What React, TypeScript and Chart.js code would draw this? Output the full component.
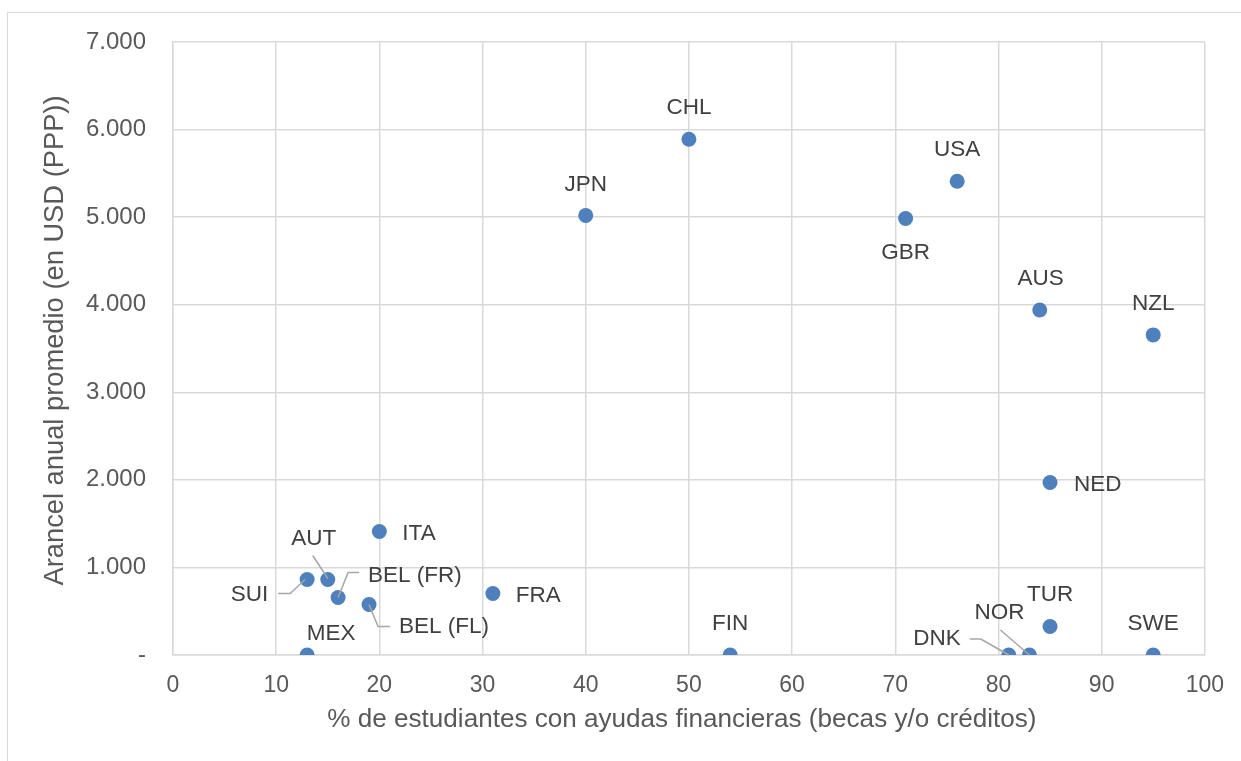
import React, { useEffect, useRef } from "react";
import { Chart, registerables } from "chart.js";

Chart.register(...registerables);

const countries = ["CHL", "JPN", "USA", "GBR", "AUS", "NZL", "NED", "ITA", "AUT", "SUI", "BEL (FR)", "BEL (FL)", "FRA", "MEX", "FIN", "DNK", "NOR", "TUR", "SWE"];
const aidShare = [50, 40, 76, 71, 84, 95, 85, 20, 15, 13, 16, 19, 31, 13, 54, 81, 83, 85, 95];
const tuition = [5890, 5020, 5410, 4985, 3940, 3655, 1970, 1410, 862, 862, 657, 577, 702, 0, 0, 0, 0, 326, 0];
const xTicks = [0, 10, 20, 30, 40, 50, 60, 70, 80, 90, 100];
const yTickLabels = ["-", "1.000", "2.000", "3.000", "4.000", "5.000", "6.000", "7.000"];

const xTitle = "% de estudiantes con ayudas financieras (becas y/o créditos)";
const yTitle = "Arancel anual promedio (en USD (PPP))";

type LabelStyle = { dx: number; dy: number; align: CanvasTextAlign; leader?: number[][] };
const labelStyles: Record<string, LabelStyle> = {
  CHL: { dx: 0, dy: -31, align: "center" },
  JPN: { dx: 0, dy: -31, align: "center" },
  USA: { dx: 0, dy: -31, align: "center" },
  GBR: { dx: 0, dy: 34, align: "center" },
  AUS: { dx: 1, dy: -31, align: "center" },
  NZL: { dx: 0, dy: -31, align: "center" },
  NED: { dx: 24, dy: 2, align: "left" },
  ITA: { dx: 23, dy: 2, align: "left" },
  FRA: { dx: 23, dy: 2, align: "left" },
  MEX: { dx: 24, dy: -21, align: "center" },
  FIN: { dx: 0, dy: -31, align: "center" },
  TUR: { dx: 0, dy: -32, align: "center" },
  SWE: { dx: 0, dy: -31, align: "center" },
  SUI: { dx: -39, dy: 15, align: "right", leader: [[-29, 14], [-17, 14], [-2, 0]] },
  AUT: { dx: -14, dy: -41, align: "center", leader: [[-15, -24], [0, -1]] },
  "BEL (FR)": { dx: 30, dy: -22, align: "left", leader: [[21, -25], [10, -25], [0, 0]] },
  "BEL (FL)": { dx: 30, dy: 22, align: "left", leader: [[21, 22], [9, 22], [0, 0]] },
  DNK: { dx: -48, dy: -16, align: "right", leader: [[-39, -16], [-28, -16], [0, 0]] },
  NOR: { dx: -30, dy: -42, align: "center", leader: [[-29, -25], [0, 0]] },
};

const FONT = "'Liberation Sans', Arial, sans-serif";

const labelPlugin = {
  id: "pointLabels",
  afterDatasetsDraw(chart: any) {
    const ctx = chart.ctx;
    const meta = chart.getDatasetMeta(0);
    ctx.save();
    meta.data.forEach((pt: any, i: number) => {
      const name = countries[i];
      const st = labelStyles[name];
      if (!st) return;
      const { x, y } = pt.getProps(["x", "y"], true);
      if (st.leader) {
        ctx.strokeStyle = "#A6A6A6";
        ctx.lineWidth = 1.5;
        ctx.beginPath();
        st.leader.forEach((p, k) => {
          if (k === 0) ctx.moveTo(x + p[0], y + p[1]);
          else ctx.lineTo(x + p[0], y + p[1]);
        });
        ctx.stroke();
      }
      ctx.fillStyle = "#404040";
      ctx.font = `22.5px ${FONT}`;
      ctx.textAlign = st.align;
      ctx.textBaseline = "middle";
      ctx.fillText(name, x + st.dx, y + st.dy);
    });
    ctx.restore();
  },
  afterDraw(chart: any) {
    const ctx = chart.ctx;
    const a = chart.chartArea;
    ctx.save();
    ctx.fillStyle = "#595959";
    ctx.textAlign = "center";
    ctx.textBaseline = "middle";
    ctx.font = `26.1px ${FONT}`;
    ctx.fillText(xTitle, (a.left + a.right) / 2 - 7, a.bottom + 65);
    ctx.font = `27.3px ${FONT}`;
    ctx.translate(a.left - 118, (a.top + a.bottom) / 2 - 8);
    ctx.rotate(-Math.PI / 2);
    ctx.fillText(yTitle, 0, 0);
    ctx.restore();
  },
};

export default function App() {
  const ref = useRef<HTMLCanvasElement>(null);
  useEffect(() => {
    if (!ref.current) return;
    const chart = new Chart(ref.current, {
      type: "scatter",
      data: {
        datasets: [
          {
            data: aidShare.map((v, i) => ({ x: v, y: tuition[i] })),
            backgroundColor: "#4E80BD",
            borderColor: "#4E80BD",
            borderWidth: 0,
            pointRadius: 7.5,
          },
        ],
      },
      options: {
        animation: false,
        responsive: false,
        devicePixelRatio: 1,
        layout: { padding: { top: 42, right: 36, left: 0, bottom: 0 } },
        plugins: { legend: { display: false }, tooltip: { enabled: false } },
        scales: {
          x: {
            type: "linear",
            min: 0,
            max: 100,
            afterBuildTicks: (s: any) => {
              s.ticks = xTicks.map((v) => ({ value: v }));
            },
            afterFit: (s: any) => {
              s.height = 106;
            },
            ticks: { font: { family: FONT, size: 23 }, color: "#595959", padding: 17 },
            grid: { color: "#D9D9D9", lineWidth: 1.5, drawTicks: false },
            border: { color: "#D9D9D9", width: 1.5 },
          },
          y: {
            type: "linear",
            min: 0,
            max: 7000,
            ticks: {
              stepSize: 1000,
              font: { family: FONT, size: 24 },
              color: "#595959",
              padding: 27,
              callback: (v: any) => yTickLabels[Math.round(Number(v) / 1000)],
            },
            afterFit: (s: any) => {
              s.width = 173;
            },
            grid: { color: "#D9D9D9", lineWidth: 1.5, drawTicks: false },
            border: { color: "#D9D9D9", width: 1.5 },
          },
        },
      },
      plugins: [labelPlugin],
    } as any);
    return () => chart.destroy();
  }, []);
  return (
    <div>
      <div
        style={{
          position: "fixed",
          left: 7,
          top: 12,
          width: 1300,
          height: 800,
          border: "1.5px solid #D9D9D9",
          boxSizing: "border-box",
        }}
      />
      <canvas ref={ref} width={1241} height={761} style={{ position: "fixed", left: 0, top: 0, width: 1241, height: 761 }} />
    </div>
  );
}
